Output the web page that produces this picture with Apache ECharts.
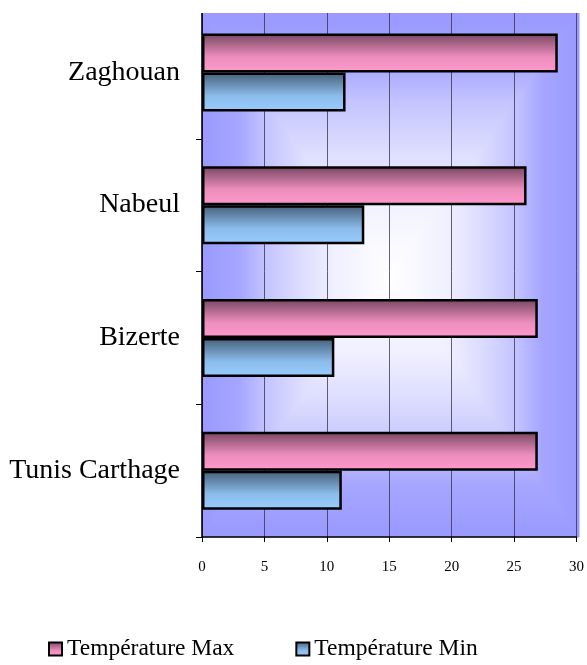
<!DOCTYPE html>
<html>
<head>
<meta charset="utf-8">
<script src="https://cdn.jsdelivr.net/npm/echarts@6/dist/echarts.min.js"></script>
<style>
  html, body { margin: 0; padding: 0; background: #fff; }
  #chart { width: 587px; height: 665px; }
</style>
</head>
<body>
<div id="chart"></div>
<script>
const categories = ['Tunis Carthage', 'Bizerte', 'Nabeul', 'Zaghouan'];
const seriesNames = ['Température Max', 'Température Min'];
const tempMax = [26.9, 26.9, 26.0, 28.5];
const tempMin = [11.2, 10.6, 13.0, 11.5];
const xTicks = { min: 0, max: 30, interval: 5 };

const FONT = "'Liberation Serif', 'Times New Roman', serif";
const W = 587, H = 665;
const G = { left: 202, right: 8, top: 6, bottom: 128 };
const visTop = 13;
const L = G.left, R = W - G.right, T = visTop, B = H - G.bottom;
const CX = (L + R) / 2, CY = (T + B) / 2;

const stopsEdgeToCenter = [
  { offset: 0, color: '#9999ff' },
  { offset: 0.2, color: '#a6a6ff' },
  { offset: 0.34, color: '#c4c4ff' },
  { offset: 0.52, color: '#dcdcff' },
  { offset: 0.7, color: '#f0f0ff' },
  { offset: 1, color: '#ffffff' }
];
function rev(stops) {
  return stops.map(s => ({ offset: 1 - s.offset, color: s.color })).reverse();
}
function lin(x, y, x2, y2, stops) {
  return new echarts.graphic.LinearGradient(x, y, x2, y2, stops);
}
function tri(points, grad) {
  return { type: 'polygon', z: -9, shape: { points: points },
    style: { fill: grad, stroke: grad, lineWidth: 1 } };
}

const maxGrad = lin(0, 0, 0, 1, [
  { offset: 0, color: '#764560' },
  { offset: 0.6, color: '#ec8ebd' },
  { offset: 1, color: '#ff99cc' }
]);
const minGrad = lin(0, 0, 0, 1, [
  { offset: 0, color: '#455d77' },
  { offset: 0.6, color: '#8bbceb' },
  { offset: 1, color: '#99ccff' }
]);

const chart = echarts.init(document.getElementById('chart'), null, { renderer: 'canvas' });
chart.setOption({
  animation: false,
  backgroundColor: '#ffffff',
  textStyle: { fontFamily: FONT, color: '#000' },
  graphic: [
    { type: 'rect', z: -10, shape: { x: L, y: T, width: R - L, height: B - T }, style: { fill: '#c4c4ff' } },
    tri([[L, T], [L, B], [CX, CY]], lin(0, 0, 1, 0, stopsEdgeToCenter)),
    tri([[R, T], [R, B], [CX, CY]], lin(0, 0, 1, 0, rev(stopsEdgeToCenter))),
    tri([[L, T], [R, T], [CX, CY]], lin(0, 0, 0, 1, stopsEdgeToCenter)),
    tri([[L, B], [R, B], [CX, CY]], lin(0, 0, 0, 1, rev(stopsEdgeToCenter))),
    { type: 'rect', z: 100, shape: { x: 0, y: 0, width: W, height: visTop }, style: { fill: '#ffffff' } }
  ],
  grid: { left: G.left, right: G.right, top: G.top, bottom: G.bottom, containLabel: false },
  legend: {
    data: seriesNames,
    left: 43,
    top: 632,
    itemWidth: 13,
    itemHeight: 13,
    itemGap: 61,
    icon: 'rect',
    itemStyle: { borderColor: '#000', borderWidth: 2 },
    textStyle: { fontFamily: FONT, fontSize: 23.5, color: '#000' }
  },
  xAxis: {
    type: 'value',
    min: xTicks.min, max: xTicks.max, interval: xTicks.interval,
    axisLine: { show: true, lineStyle: { color: '#000', width: 1.5 } },
    axisTick: { show: true, length: 5, lineStyle: { color: '#000' } },
    axisLabel: { fontFamily: FONT, fontSize: 15, color: '#000', margin: 23 },
    splitLine: { show: true, lineStyle: { color: 'rgba(40,40,60,0.72)', width: 1 } }
  },
  yAxis: {
    type: 'category',
    data: categories,
    axisLine: { show: true, lineStyle: { color: '#000', width: 1.5 } },
    axisTick: { show: true, length: 6, lineStyle: { color: '#000' } },
    axisLabel: { fontFamily: FONT, fontSize: 28, color: '#000', margin: 22 },
    splitLine: { show: false }
  },
  series: [
    {
      name: seriesNames[0], type: 'bar', data: tempMax,
      barWidth: 39, barGap: '0%',
      itemStyle: { color: maxGrad, borderColor: '#000', borderWidth: 2.5 }
    },
    {
      name: seriesNames[1], type: 'bar', data: tempMin,
      barWidth: 39, barGap: '0%',
      itemStyle: { color: minGrad, borderColor: '#000', borderWidth: 2.5 }
    }
  ]
});
</script>
</body>
</html>
